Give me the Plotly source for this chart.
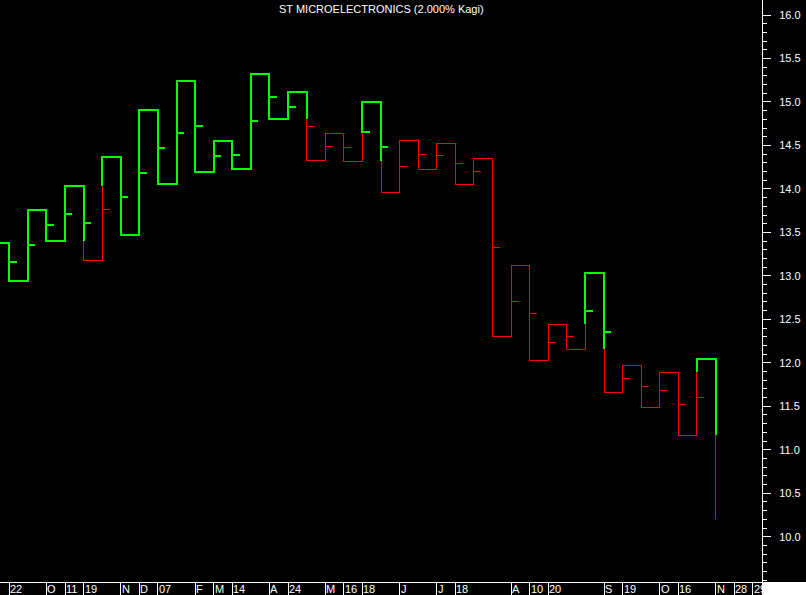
import plotly.graph_objects as go

# ---------------- data ----------------
title_text = "ST MICROELECTRONICS (2.000% Kagi)"

kagi_start = 13.381
kagi_levels = [12.944, 13.757, 13.404, 14.037, 13.182, 14.370, 13.470, 14.907, 14.053, 15.244,
               14.198, 14.551, 14.232, 15.325, 14.800, 15.118, 14.329, 14.639, 14.317, 15.003,
               13.961, 14.559, 14.225, 14.524, 14.053, 14.352, 12.305, 13.117, 12.021, 12.446,
               12.155, 13.036, 11.661, 11.967, 11.488, 11.891, 11.166, 12.044, 10.200]
tick_levels = [13.163, 13.355, 13.585, 13.715, 13.611, 13.765, 13.910, 14.186, 14.474, 14.646,
               14.723, 14.382, 14.393, 14.784, 15.060, 14.945, 14.715, 14.493, 14.482, 14.658,
               14.478, 14.263, 14.398, 14.386, 14.294, 14.202, 13.328, 12.707, 12.569, 12.228,
               12.300, 12.599, 12.354, 11.822, 11.730, 11.687, 11.523, 11.603]

date_idx = [0, 2, 3, 4, 6, 7, 8, 10, 11, 12, 14, 15, 17, 18, 19, 21, 23, 24, 27, 28, 29,
            32, 33, 35, 36, 38, 39, 40]
date_text = ["22", "O", "11", "19", "N", "D", "07", "F", "M", "14", "A", "24", "M", "16", "18",
             "J", "J", "18", "A", "10", "20", "S", "19", "O", "16", "N", "28", "29"]

price_ticks = [10.0, 10.5, 11.0, 11.5, 12.0, 12.5, 13.0, 13.5, 14.0, 14.5, 15.0, 15.5, 16.0]
minor_ticks = [round(9.5 + 0.1 * i, 1) for i in range(66)]

# ---------------- style ----------------
GREEN = "#00ff00"
RED = "#ff0000"
FONT = "Liberation Sans, Arial, sans-serif"
TICK_LEN = 0.4
X_RANGE = [-0.5, 40.5]
Y_RANGE = [9.479, 16.173]

# ---------------- build kagi path ----------------
runs = {GREEN: [], RED: []}
state = GREEN
cur = [(X_RANGE[0], kagi_start), (0, kagi_start)]
prev_sh, prev_wa = kagi_start, None
prev = kagi_start
tick_cols = []
n = len(kagi_levels)
for k, lvl in enumerate(kagi_levels):
    split, new = None, state
    up = lvl > prev
    if up:
        if state == RED and prev_sh is not None and lvl > prev_sh:
            split, new = prev_sh, GREEN
    else:
        if state == GREEN and prev_wa is not None and lvl < prev_wa:
            split, new = prev_wa, RED
    if k < len(tick_levels):
        t = tick_levels[k]
        if split is None:
            tick_cols.append(state)
        else:
            lo, hi = min(prev, split), max(prev, split)
            tick_cols.append(state if lo <= t <= hi else new)
    if split is not None:
        cur.append((k, split))
        runs[state].append(cur)
        cur = [(k, split)]
        state = new
    cur.append((k, lvl))
    if up:
        prev_sh = lvl
    else:
        prev_wa = lvl
    if k < n - 1:
        cur.append((k + 1, lvl))
    prev = lvl
runs[state].append(cur)

fig = go.Figure()
for col, width in ((RED, 1), (GREEN, 2)):
    xs, ys = [], []
    for r in runs[col]:
        for (px, py) in r:
            xs.append(px); ys.append(py)
        xs.append(None); ys.append(None)
    fig.add_trace(go.Scatter(x=xs, y=ys, mode="lines", line=dict(color=col, width=width),
                             hoverinfo="skip"))
    txs, tys = [], []
    for k, t in enumerate(tick_levels):
        if tick_cols[k] == col:
            txs += [k, k + TICK_LEN, None]
            tys += [t, t, None]
    fig.add_trace(go.Scatter(x=txs, y=tys, mode="lines", line=dict(color=col, width=width),
                             hoverinfo="skip"))

annotations = [dict(text=title_text, x=0.5, y=1, xref="paper", yref="paper",
                    xanchor="center", yanchor="top", showarrow=False, yshift=-1,
                    font=dict(family=FONT, size=11, color="white"))]
for i, (k, txt) in enumerate(zip(date_idx, date_text)):
    a = dict(text=txt, x=k, y=0, xref="x", yref="paper", xanchor="left", yanchor="top",
             showarrow=False, align="left", xshift=0, yshift=0, borderpad=0,
             font=dict(family=FONT, size=11, color="white"))
    if i == len(date_idx) - 1:
        a["width"] = 9
    annotations.append(a)

fig.update_layout(
    width=806, height=595, autosize=False,
    margin=dict(l=0, r=44, t=0, b=13, pad=0),
    paper_bgcolor="black", plot_bgcolor="black", showlegend=False,
    xaxis=dict(range=X_RANGE, showgrid=False, zeroline=False, showline=True,
               linecolor="white", linewidth=1, ticks="outside", ticklen=13,
               tickcolor="white", tickwidth=1, tickmode="array", tickvals=date_idx,
               showticklabels=False, fixedrange=True),
    yaxis=dict(side="right", range=Y_RANGE, showgrid=False, zeroline=False, showline=True,
               linecolor="white", linewidth=1, ticks="outside", ticklen=8,
               tickcolor="white", tickwidth=1, tickmode="array", tickvals=price_ticks,
               ticktext=[f"{v:.1f}" for v in price_ticks], ticklabelstandoff=6,
               tickfont=dict(family=FONT, size=11, color="white"),
               minor=dict(tickmode="array", tickvals=minor_ticks, ticks="outside",
                          ticklen=4, tickcolor="white", tickwidth=1),
               fixedrange=True),
    annotations=annotations,
    shapes=[dict(type="rect", xref="paper", yref="paper", x0=1, x1=806 / 762,
                 y0=-13 / 582, y1=0, fillcolor="white", line=dict(width=0), layer="above")],
)

fig.write_html("out.html", config={"displayModeBar": False},
               post_script="document.body.style.margin='0';document.body.style.padding='0';"
                           "document.body.style.overflow='hidden';"
                           "document.querySelectorAll('.scatterlayer path.js-line').forEach("
                           "function(p){p.style.shapeRendering='crispEdges';});")
